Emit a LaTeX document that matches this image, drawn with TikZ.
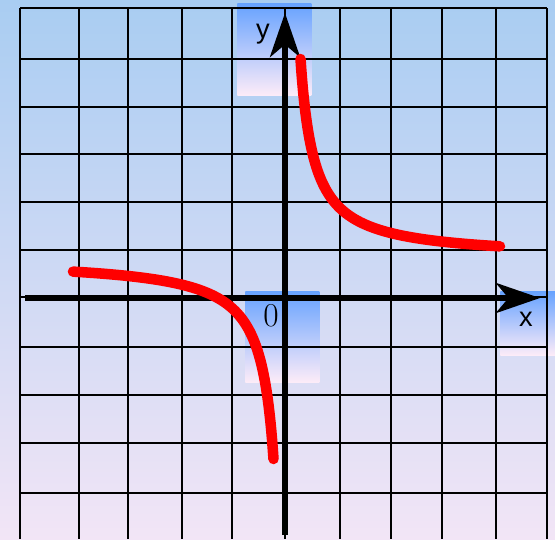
\documentclass[tikz,border=0pt]{standalone}
\usepackage{fontspec}
\newfontfamily\lblfont{Liberation Sans}
\usetikzlibrary{arrows.meta,positioning}
\definecolor{bgtop}{RGB}{169,205,242}
\definecolor{bgmid}{RGB}{204,219,238}
\definecolor{bgbot}{RGB}{242,229,246}
\definecolor{boxtop}{RGB}{102,162,255}
\definecolor{boxmid}{RGB}{168,205,246}
\definecolor{boxbot}{RGB}{253,236,248}
\definecolor{curvered}{RGB}{255,0,0}

\begin{document}
\begin{tikzpicture}[
  x=0.02cm, y=-0.02cm,
  gridline/.style={draw=black, line width=1.1pt},
  axisline/.style={draw=black, line width=3.4pt, -{Stealth[length=0.88cm, width=0.6cm, inset=0.25cm]}},
  lblbox/.style={rectangle, anchor=north west, inner sep=0pt, top color=boxtop, middle color=boxmid, bottom color=boxbot},
  lbl/.style={inner sep=0pt, font=\lblfont\fontsize{15.5}{18}\selectfont},
  branch/.style={draw=curvered, line width=6pt, line cap=round, line join=round}
]
% background
\shade[top color=bgtop, middle color=bgmid, bottom color=bgbot] (0,0) rectangle (555,539);
\useasboundingbox (0,0) rectangle (555,539);

% label boxes
\node[lblbox, minimum width=1.48cm, minimum height=1.84cm] (ybox) at (237,3) {};
\node[lblbox, minimum width=1.48cm, minimum height=1.82cm] (obox) at (245,291) {};
\node[lblbox, minimum width=1.5cm, minimum height=1.28cm] (xbox) at (500,291) {};

% grid
\foreach \gx in {20,79,128,182,232,285,340,391,442,496,547}
  \draw[gridline] (\gx,8) -- (\gx,539);
\foreach \gy in {8,59,107,154,202,250,297,347,395,443,493}
  \draw[gridline] (20,\gy) -- (547,\gy);

% axes
\coordinate (xstart) at (25,298);
\coordinate (xend) at (540,298);
\coordinate (ystart) at (285,535);
\coordinate (yend) at (285,13);
\draw[axisline] (xstart) -- (xend);
\draw[axisline] (ystart) -- (yend);

% labels
\node[lbl] (ylab) at (263,34) {y};
\node[lbl] (xlab) at (526,319) {x};
\node[inner sep=0pt, font=\fontsize{19}{22}\selectfont] (olab) at (271,316) {0};

% hyperbola branches
\draw[branch] plot[domain=300.5:500, samples=160, smooth] (\x, {259-2700/(\x-287)});
\draw[branch] plot[domain=73:273.5, samples=160, smooth] (\x, {259-2700/(\x-287)});
\end{tikzpicture}
\end{document}
